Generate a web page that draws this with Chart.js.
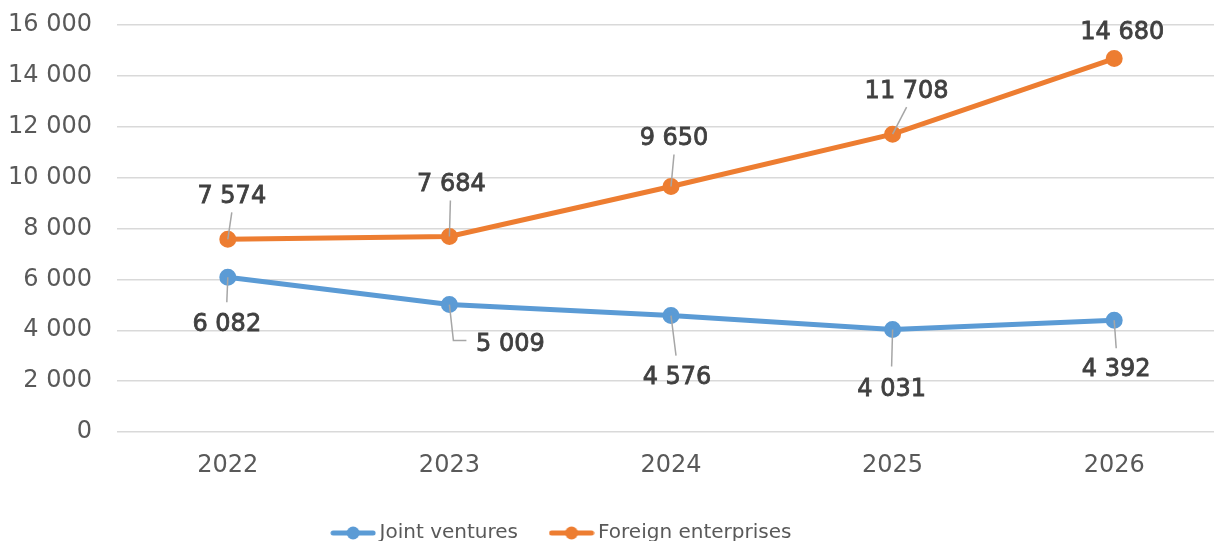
<!DOCTYPE html>
<html>
<head>
<meta charset="utf-8">
<script src="https://cdn.jsdelivr.net/npm/chart.js@4/dist/chart.umd.min.js"></script>
<style>
  html, body { margin: 0; padding: 0; overflow: hidden; background: #fff; }
  #lineChart { position: absolute; left: 0; top: 0; }
</style>
</head>
<body>
<canvas id="lineChart" width="1236" height="553"></canvas>
<script>
// Chart data
const years = ['2022', '2023', '2024', '2025', '2026'];
const jointVentures = [6082, 5009, 4576, 4031, 4392];
const foreignEnterprises = [7574, 7684, 9650, 11708, 14680];
const yTicks = [0, 2000, 4000, 6000, 8000, 10000, 12000, 14000, 16000];

// where each value label sits relative to its point: [dx, dy, leader points...]
const jointLabelPos = [
  [-1, 45, [[-1, 25]]],
  [61, 38, [[4, 36], [17, 36]]],
  [6, 60, [[5, 40]]],
  [-1, 58, [[-1, 37]]],
  [2, 47, [[2, 28]]]
];
const foreignLabelPos = [
  [4, -45, [[4, -27]]],
  [2, -54, [[1, -36]]],
  [3, -50, [[3, -32]]],
  [14, -45, [[14, -27]]],
  [8, -28, []]
];

const BLUE = '#5b9bd5';
const ORANGE = '#ed7d31';
const FONT = "'DejaVu Sans', Verdana, sans-serif";

function fmt(v) {
  return String(v).replace(/\B(?=(\d{3})+(?!\d))/g, ' ');
}

// legend marker: line with a dot in the middle
function legendMarker(color) {
  const c = document.createElement('canvas');
  c.width = 46; c.height = 14;
  const g = c.getContext('2d');
  g.strokeStyle = color;
  g.lineWidth = 5;
  g.lineCap = 'round';
  g.beginPath(); g.moveTo(3, 7); g.lineTo(43, 7); g.stroke();
  g.fillStyle = color;
  g.beginPath(); g.arc(23, 7, 6.5, 0, Math.PI * 2); g.fill();
  return c;
}

// value labels with leader lines
const valueLabels = {
  id: 'valueLabels',
  afterDatasetsDraw(chart) {
    const ctx = chart.ctx;
    const posSets = [jointLabelPos, foreignLabelPos];
    chart.data.datasets.forEach((ds, di) => {
      const meta = chart.getDatasetMeta(di);
      meta.data.forEach((pt, i) => {
        const [dx, dy, leader] = posSets[di][i];
        ctx.save();
        if (leader.length) {
          ctx.strokeStyle = '#a6a6a6';
          ctx.lineWidth = 1.5;
          ctx.beginPath();
          ctx.moveTo(pt.x, pt.y);
          leader.forEach(p => ctx.lineTo(pt.x + p[0], pt.y + p[1]));
          ctx.stroke();
        }
        const txt = fmt(ds.data[i]);
        ctx.fillStyle = '#404040';
        ctx.strokeStyle = '#404040';
        ctx.lineWidth = 0.8;
        ctx.font = '24px ' + FONT;
        ctx.textAlign = 'center';
        ctx.textBaseline = 'alphabetic';
        ctx.fillText(txt, pt.x + dx, pt.y + dy + 8.7);
        ctx.strokeText(txt, pt.x + dx, pt.y + dy + 8.7);
        ctx.restore();
      });
    });
  }
};

// nudge the legend left a bit
const legendShift = {
  id: 'legendShift',
  afterLayout(chart) {
    if (chart.legend) {
      chart.legend.left -= 54;
      chart.legend.right -= 54;
    }
  }
};

const ctx = document.getElementById('lineChart').getContext('2d');
const lineChart = new Chart(ctx, {
  type: 'line',
  data: {
    labels: years,
    datasets: [{
      label: 'Joint ventures',
      data: jointVentures,
      borderColor: BLUE,
      backgroundColor: BLUE,
      pointBackgroundColor: BLUE,
      pointBorderColor: BLUE,
      borderWidth: 5,
      pointRadius: 6,
      pointStyle: 'circle',
      fill: false
    }, {
      label: 'Foreign enterprises',
      data: foreignEnterprises,
      borderColor: ORANGE,
      backgroundColor: ORANGE,
      pointBackgroundColor: ORANGE,
      pointBorderColor: ORANGE,
      borderWidth: 5,
      pointRadius: 6,
      pointStyle: 'circle',
      fill: false
    }]
  },
  options: {
    responsive: false,
    animation: false,
    layout: { padding: { top: 25, right: 0, bottom: 0, left: 0 } },
    plugins: {
      legend: {
        position: 'bottom',
        labels: {
          usePointStyle: true,
          pointStyleWidth: 33,
          boxHeight: 14,
          padding: 37,
          color: '#595959',
          font: { family: FONT, size: 20 },
          generateLabels(chart) {
            return chart.data.datasets.map((ds, i) => ({
              text: ds.label,
              pointStyle: legendMarker(ds.borderColor),
              fillStyle: ds.borderColor,
              strokeStyle: ds.borderColor,
              lineWidth: 0,
              fontColor: '#595959',
              hidden: false,
              datasetIndex: i
            }));
          }
        }
      },
      tooltip: { enabled: false }
    },
    scales: {
      x: {
        offset: true,
        grid: { display: false, drawTicks: false },
        border: { display: false },
        ticks: { color: '#595959', padding: 19, font: { family: FONT, size: 24 } },
        afterFit(scale) { scale.height = 54; }
      },
      y: {
        min: 0,
        max: 16000,
        afterBuildTicks(scale) { scale.ticks = yTicks.map(v => ({ value: v })); },
        grid: { color: '#d9d9d9', lineWidth: 1.5, drawTicks: true, tickLength: 25, tickColor: 'rgba(0,0,0,0)' },
        border: { display: false },
        ticks: {
          color: '#595959',
          padding: 0,
          font: { family: FONT, size: 24 },
          callback: v => fmt(v)
        },
        afterFit(scale) { scale.width = 117; }
      }
    }
  },
  plugins: [valueLabels, legendShift]
});
</script>
</body>
</html>
